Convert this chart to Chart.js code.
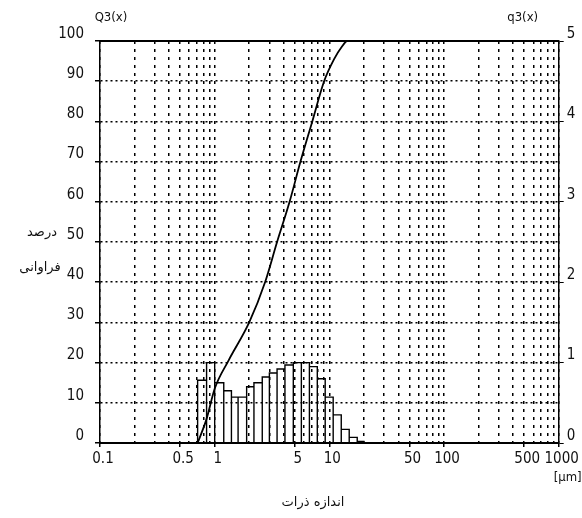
<!DOCTYPE html>
<html>
<head>
<meta charset="utf-8">
<script src="https://cdn.jsdelivr.net/npm/chart.js@4"></script>
<style>
  html, body { margin: 0; padding: 0; background: #fff; }
</style>
</head>
<body>
<canvas id="psd" width="582" height="518"></canvas>
<script>
// size classes of the histogram (µm), edges
const binEdges = [0.71, 0.85, 1.0, 1.2, 1.4, 1.6, 1.9, 2.2, 2.6, 3.0, 3.5, 4.1, 4.85, 5.7, 6.7, 7.85, 9.2, 10.8, 12.7, 14.9, 17.5, 20];
// density distribution q3(x), right axis
const q3Values = [0.78, 1.0, 0.75, 0.65, 0.57, 0.57, 0.7, 0.75, 0.82, 0.87, 0.92, 0.97, 1.0, 1.0, 0.95, 0.8, 0.57, 0.35, 0.17, 0.07, 0.02];
// cumulative distribution Q3(x), left axis
const curveSizes = [0.71, 0.85, 1.0, 1.32, 2.0, 2.75, 3.5, 4.5, 5.6, 7.1, 9.0, 11.0, 12.8, 14.3, 1000];
const curveQ3 = [0, 6, 13.5, 20.5, 30, 40, 50, 60, 70, 80, 90, 95.5, 98.5, 100, 100];

// x gridlines (log) and labelled ticks
const xGridTicks = [0.1, 0.2, 0.3, 0.4, 0.5, 0.6, 0.7, 0.8, 0.9,
  1, 2, 3, 4, 5, 6, 7, 8, 9,
  10, 20, 30, 40, 50, 60, 70, 80, 90,
  100, 200, 300, 400, 500, 600, 700, 800, 900, 1000];
const xTickValues = [0.1, 0.5, 1, 5, 10, 50, 100, 500, 1000];
const xTickLabels = ['0.1', '0.5', '1', '5', '10', '50', '100', '500', '1000'];

const narrow = "'Liberation Sans Narrow', 'DejaVu Sans Condensed', sans-serif";

// histogram outline: every bar as its own rectangle
const barOutline = [];
q3Values.forEach((v, i) => {
  barOutline.push({ x: binEdges[i], y: 0 });
  barOutline.push({ x: binEdges[i], y: v });
  barOutline.push({ x: binEdges[i + 1], y: v });
  barOutline.push({ x: binEdges[i + 1], y: 0 });
});

const cumulative = curveSizes.map((s, i) => ({ x: s, y: curveQ3[i] }));

const extraText = {
  id: 'extraText',
  afterDraw(chart) {
    const c = chart.ctx;
    const a = chart.chartArea;
    c.save();
    c.fillStyle = '#111';
    c.textAlign = 'center';
    c.textBaseline = 'middle';
    c.font = '13px ' + narrow;
    c.fillText('Q3(x)', a.left + 11, 18);
    c.fillText('q3(x)', a.right - 36, 18);
    c.fillText('[µm]', a.right + 9, 478);
    c.font = "13px 'DejaVu Sans', sans-serif";
    c.fillText('درصد', 42, 233);
    c.fillText('فراوانی', 40, 268);
    c.fillText('اندازه ذرات', 313, 503);
    c.restore();
  }
};

new Chart(document.getElementById('psd'), {
  type: 'line',
  data: {
    datasets: [
      {
        label: 'Q3(x)',
        data: cumulative,
        xAxisID: 'x',
        yAxisID: 'y',
        borderColor: '#000',
        borderWidth: 1.8,
        pointRadius: 0,
        cubicInterpolationMode: 'monotone'
      },
      {
        label: 'q3(x)',
        data: barOutline,
        xAxisID: 'x',
        yAxisID: 'y2',
        borderColor: '#000',
        borderWidth: 1.4,
        pointRadius: 0,
        tension: 0
      }
    ]
  },
  options: {
    responsive: false,
    animation: false,
    devicePixelRatio: 1,
    layout: { padding: { top: 41, left: 0, right: 0, bottom: 0 } },
    plugins: {
      legend: { display: false },
      tooltip: { enabled: false }
    },
    scales: {
      x: {
        type: 'logarithmic',
        position: 'bottom',
        min: 0.1,
        max: 1000,
        afterBuildTicks: (s) => { s.ticks = xGridTicks.map(v => ({ value: v })); },
        afterFit: (s) => { s.height = 75; },
        grid: {
          color: '#000',
          lineWidth: 1.5,
          tickLength: 4,
          tickColor: (ctx) => xTickValues.includes(ctx.tick && ctx.tick.value) ? '#000' : 'rgba(0,0,0,0)'
        },
        border: { color: '#000', width: 2, dash: [3, 5] },
        ticks: {
          autoSkip: false,
          maxRotation: 0,
          padding: 3,
          labelOffset: 3,
          color: '#111',
          font: { family: narrow, size: 15 },
          callback: (v) => {
            const k = xTickValues.indexOf(v);
            return k >= 0 ? xTickLabels[k] : '';
          }
        }
      },
      xTop: {
        type: 'logarithmic',
        position: 'top',
        min: 0.1,
        max: 1000,
        afterFit: (s) => { s.height = 0; },
        grid: { drawOnChartArea: false, drawTicks: false },
        border: { color: '#000', width: 2 },
        ticks: { display: false }
      },
      y: {
        position: 'left',
        min: 0,
        max: 100,
        afterFit: (s) => { s.width = 100; },
        grid: { color: '#000', lineWidth: 1.5, tickLength: 5, tickColor: '#000' },
        border: { color: '#000', width: 1.5, dash: [2, 3] },
        ticks: {
          stepSize: 10,
          padding: 11,
          labelOffset: -7,
          color: '#111',
          font: { family: narrow, size: 15 }
        }
      },
      y2: {
        position: 'right',
        min: 0,
        max: 5,
        afterFit: (s) => { s.width = 23.3; },
        grid: { drawOnChartArea: false, tickLength: 5, tickColor: '#000' },
        border: { color: '#000', width: 1.5 },
        ticks: {
          stepSize: 1,
          padding: 3,
          labelOffset: -7,
          color: '#111',
          font: { family: narrow, size: 15 }
        }
      }
    }
  },
  plugins: [extraText]
});
</script>
</body>
</html>
